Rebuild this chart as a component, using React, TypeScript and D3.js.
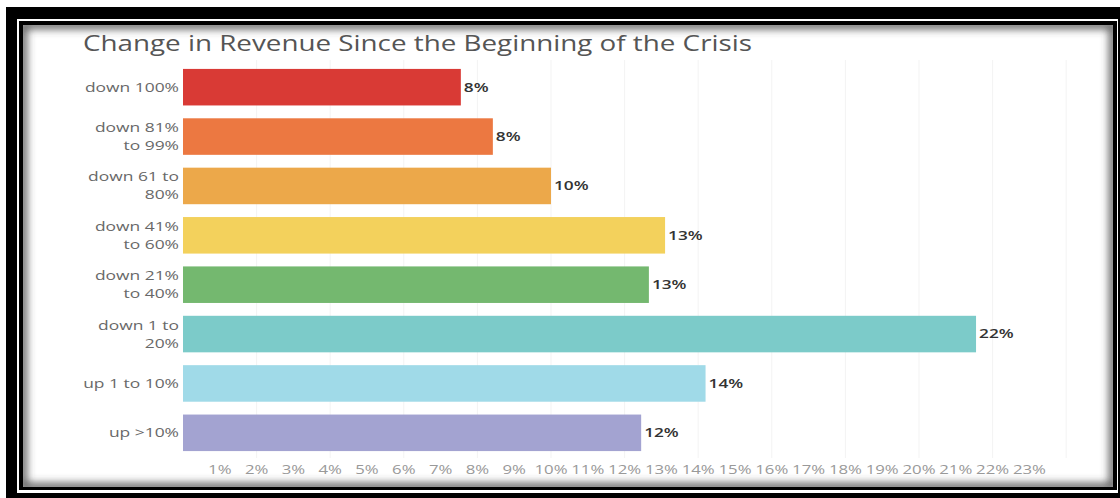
import React from "react";
import * as d3 from "d3";

const title = "Change in Revenue Since the Beginning of the Crisis";
const categories: string[][] = [
  ["down 100%"],
  ["down 81%", "to 99%"],
  ["down 61 to", "80%"],
  ["down 41%", "to 60%"],
  ["down 21%", "to 40%"],
  ["down 1 to", "20%"],
  ["up 1 to 10%"],
  ["up >10%"],
];
const values = [7.55, 8.42, 10.0, 13.1, 12.66, 21.55, 14.2, 12.45];
const colors = ["#d93a35", "#ec7841", "#eca84a", "#f3d15c", "#74b86f", "#7ccbc9", "#a0dae8", "#a3a3d1"];
const tickValues = d3.range(1, 24);
const gridValues = d3.range(2, 25, 2);

const W = 1120;
const H = 498;

export default function App() {
  const x = d3.scaleLinear().domain([0, 24]).range([183, 183 + 24 * 36.8]);
  const y = d3
    .scaleBand<number>()
    .domain(d3.range(categories.length))
    .range([62.5, 457.5])
    .paddingInner(0.26)
    .paddingOuter(0.13);
  const bw = y.bandwidth();

  return (
    <svg
      width={W}
      height={H}
      style={{ position: "absolute", left: 0, top: 0, display: "block", background: "#fff" }}
      fontFamily="'Open Sans', sans-serif"
    >
      <defs>
        <clipPath id="inner">
          <rect x={23} y={25} width={1090} height={462} />
        </clipPath>
        <filter id="blur" x="-5%" y="-5%" width="110%" height="110%">
          <feGaussianBlur stdDeviation={4.5} />
        </filter>
      </defs>
      {/* frame */}
      <rect x={6} y={7} width={W - 6} height={H - 7} fill="#000" />
      <rect x={17} y={19} width={1101} height={474} fill="#fff" />
      <rect x={19} y={21} width={1098} height={469} fill="#000" />
      <rect x={23} y={25} width={1090} height={462} fill="#fff" />
      <g clipPath="url(#inner)">
        <rect x={23} y={25} width={1090} height={462} fill="none" stroke="#444" strokeWidth={7} filter="url(#blur)" />
      </g>

      {/* title */}
      <text x={83} y={51} fontSize={21.5} fill="#555" textLength={669} lengthAdjust="spacingAndGlyphs">
        {title}
      </text>

      {/* grid */}
      {gridValues.map((g) => (
        <line key={g} x1={x(g)} x2={x(g)} y1={60} y2={458} stroke="#f3f3f3" strokeWidth={1} />
      ))}

      {/* bars */}
      {values.map((v, i) => (
        <rect key={i} x={x(0)} y={y(i)} width={x(v) - x(0)} height={bw} fill={colors[i]} />
      ))}

      {/* value labels */}
      {values.map((v, i) => (
        <g key={i} transform={`translate(${x(v) + 3},${(y(i) as number) + bw / 2}) scale(1.38,1)`}>
          <text dy="0.35em" fontSize={12.5} fontWeight={600} fill="#333">
            {Math.round(v) + "%"}
          </text>
        </g>
      ))}

      {/* category labels */}
      {categories.map((lines, i) => {
        const cy = (y(i) as number) + bw / 2;
        const lh = 18;
        const start = cy - ((lines.length - 1) * lh) / 2;
        return (
          <g key={i} transform={`translate(179,${start}) scale(1.34,1)`}>
            <text textAnchor="end" fontSize={13} fill="#686868">
              {lines.map((l, j) => (
                <tspan key={j} x={0} y={j * lh} dy="0.35em">
                  {l}
                </tspan>
              ))}
            </text>
          </g>
        );
      })}

      {/* x tick labels */}
      {tickValues.map((t) => (
        <g key={t} transform={`translate(${x(t)},474) scale(1.4,1)`}>
          <text textAnchor="middle" fontSize={12} fill="#999">
            {t + "%"}
          </text>
        </g>
      ))}
    </svg>
  );
}
